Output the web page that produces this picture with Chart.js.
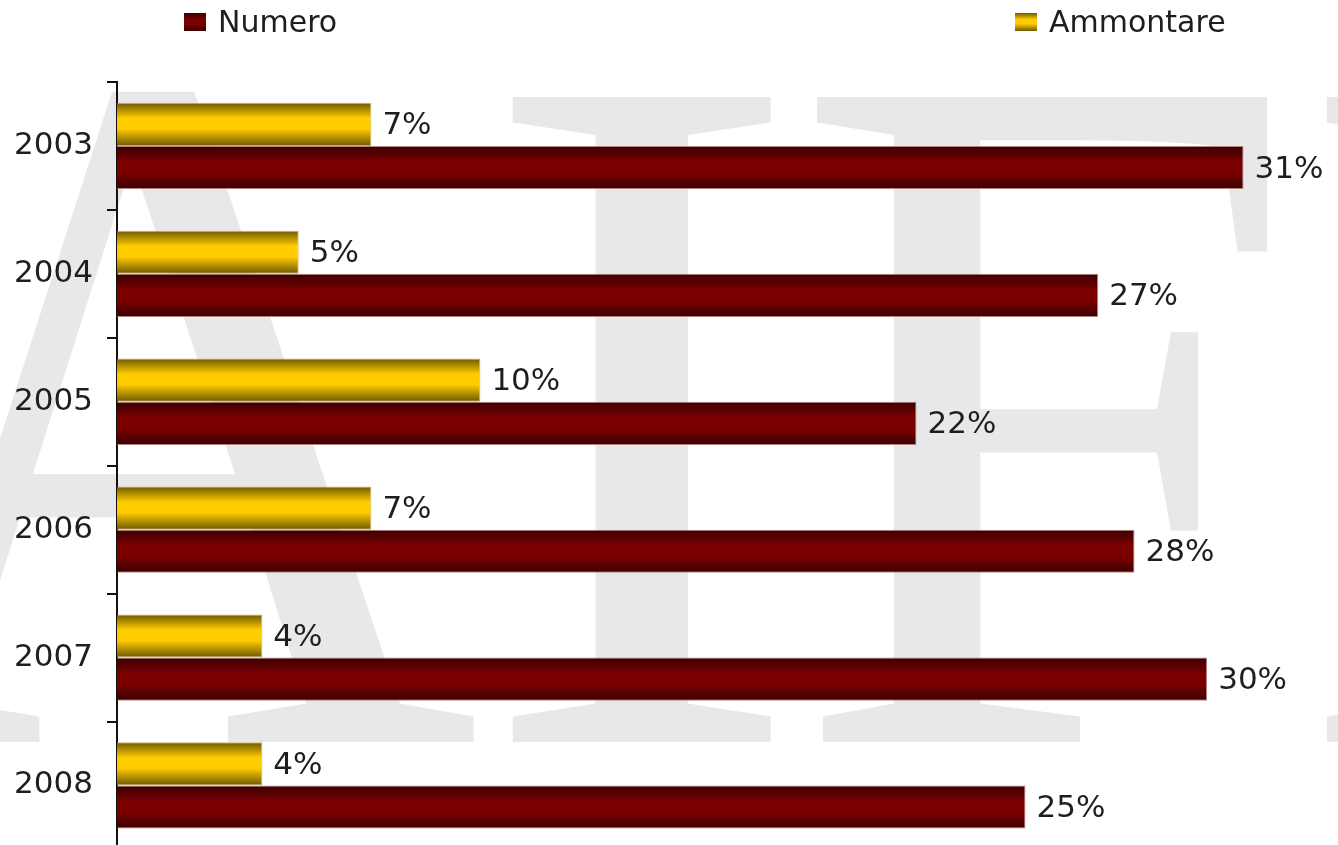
<!DOCTYPE html>
<html>
<head>
<meta charset="utf-8">
<script src="https://cdn.jsdelivr.net/npm/chart.js@4.4.1/dist/chart.umd.min.js"></script>
<style>
  html, body { margin: 0; padding: 0; overflow: hidden; background: #ffffff; }
  #wrap { position: relative; width: 1338px; height: 882px; }
</style>
</head>
<body>
<div id="wrap"><canvas id="c" width="1338" height="882"></canvas></div>
<script>
// Categories and series
const years = ['2003', '2004', '2005', '2006', '2007', '2008'];
const numero = [31, 27, 22, 28, 30, 25];
const ammontare = [7, 5, 10, 7, 4, 4];
const seriesNames = ['Numero', 'Ammontare'];

const TEXT = '#1e1e1e';
const FONT = 'DejaVu Sans, Verdana, sans-serif';

// vertical "tube" shading for each series
const shades = {
  Numero:    [[0, '#3a0000'], [0.38, '#7a0000'], [0.62, '#7a0000'], [1, '#3a0000']],
  Ammontare: [[0, '#6e5800'], [0.36, '#ffcc00'], [0.6, '#ffcc00'], [1, '#6e5800']]
};
function shade(ctx, name, top, h) {
  const g = ctx.createLinearGradient(0, top, 0, top + h);
  shades[name].forEach(([o, c]) => g.addColorStop(o, c));
  return g;
}

// faint lettering behind the plot
const watermark = {
  id: 'watermark',
  beforeDraw(chart) {
    const ctx = chart.ctx;
    ctx.save();
    ctx.fillStyle = '#e8e8e8';
    ctx.font = '985px "Liberation Serif", "Times New Roman", serif';
    ctx.textBaseline = 'alphabetic';
    ctx.textAlign = 'left';
    const base = 742;
    const letters = [
      { ch: 'A', right: 477, sx: 0.9 },
      { ch: 'I', left: 508, sx: 1 },
      { ch: 'F', left: 805, sx: 0.93 },
      { ch: 'I', left: 1322, sx: 1 }
    ];
    letters.forEach(l => {
      const m = ctx.measureText(l.ch);
      ctx.save();
      if (l.left !== undefined) {
        ctx.translate(l.left, base);
        ctx.scale(l.sx, 1);
        ctx.fillText(l.ch, m.actualBoundingBoxLeft, 0);
      } else {
        ctx.translate(l.right, base);
        ctx.scale(l.sx, 1);
        ctx.fillText(l.ch, -m.actualBoundingBoxRight, 0);
      }
      ctx.restore();
    });
    ctx.restore();
  }
};

// apply the shaded fill once bar geometry is known
const barShading = {
  id: 'barShading',
  beforeDatasetsDraw(chart) {
    chart.data.datasets.forEach((ds, i) => {
      chart.getDatasetMeta(i).data.forEach(el => {
        const { y, height } = el.getProps(['y', 'height'], true);
        el.options.backgroundColor = shade(chart.ctx, ds.label, y - height / 2, height);
      });
    });
  }
};

// percentage at the end of each bar
const valueLabels = {
  id: 'valueLabels',
  afterDatasetsDraw(chart) {
    const ctx = chart.ctx;
    ctx.save();
    ctx.font = '31px ' + FONT;
    ctx.fillStyle = TEXT;
    ctx.textAlign = 'left';
    ctx.textBaseline = 'middle';
    chart.data.datasets.forEach((ds, i) => {
      chart.getDatasetMeta(i).data.forEach((el, j) => {
        const { x, y } = el.getProps(['x', 'y'], true);
        ctx.fillText(ds.data[j] + '%', x + 11, y + 2);
      });
    });
    ctx.restore();
  }
};

// two-item key spread across the top
const splitLegend = {
  id: 'splitLegend',
  afterDraw(chart, args, opts) {
    const ctx = chart.ctx;
    ctx.save();
    ctx.font = '30px ' + FONT;
    ctx.textBaseline = 'middle';
    ctx.textAlign = 'left';
    opts.items.forEach(it => {
      const ds = chart.data.datasets.find(d => d.label === it.label);
      ctx.fillStyle = shade(ctx, ds.label, opts.boxTop, opts.boxH);
      ctx.fillRect(it.x, opts.boxTop, opts.boxW, opts.boxH);
      ctx.fillStyle = TEXT;
      ctx.fillText(ds.label, it.x + opts.boxW + 12, opts.textY);
    });
    ctx.restore();
  }
};

new Chart(document.getElementById('c'), {
  type: 'bar',
  data: {
    labels: years,
    datasets: [
      {
        label: seriesNames[0],
        data: numero,
        order: 1,
        backgroundColor: () => '#7a0000',
        borderColor: 'rgba(170,110,110,0.85)',
        borderWidth: 1,
        categoryPercentage: 0.675,
        barPercentage: 1.0
      },
      {
        label: seriesNames[1],
        data: ammontare,
        order: 0,
        backgroundColor: () => '#ffcc00',
        borderColor: 'rgba(190,160,60,0.8)',
        borderWidth: 1,
        categoryPercentage: 0.675,
        barPercentage: 1.0
      }
    ]
  },
  options: {
    indexAxis: 'y',
    responsive: false,
    animation: false,
    events: [],
    layout: { padding: { top: 82, bottom: 0, left: 0, right: 0 } },
    scales: {
      x: {
        display: false,
        min: 0,
        max: 33.6
      },
      y: {
        afterFit(scale) { scale.width = 117; },
        border: { display: true, color: '#111', width: 2 },
        grid: {
          display: true,
          drawOnChartArea: false,
          drawTicks: true,
          tickLength: 10,
          color: '#111',
          lineWidth: 2,
          offset: true
        },
        ticks: {
          color: TEXT,
          padding: 14,
          font: { family: FONT, size: 31 }
        }
      }
    },
    plugins: {
      legend: { display: false },
      tooltip: { enabled: false },
      splitLegend: {
        boxTop: 13, boxH: 18, boxW: 22, textY: 24,
        items: [
          { label: 'Numero', x: 184 },
          { label: 'Ammontare', x: 1015 }
        ]
      }
    }
  },
  plugins: [watermark, barShading, valueLabels, splitLegend]
});
</script>
</body>
</html>
